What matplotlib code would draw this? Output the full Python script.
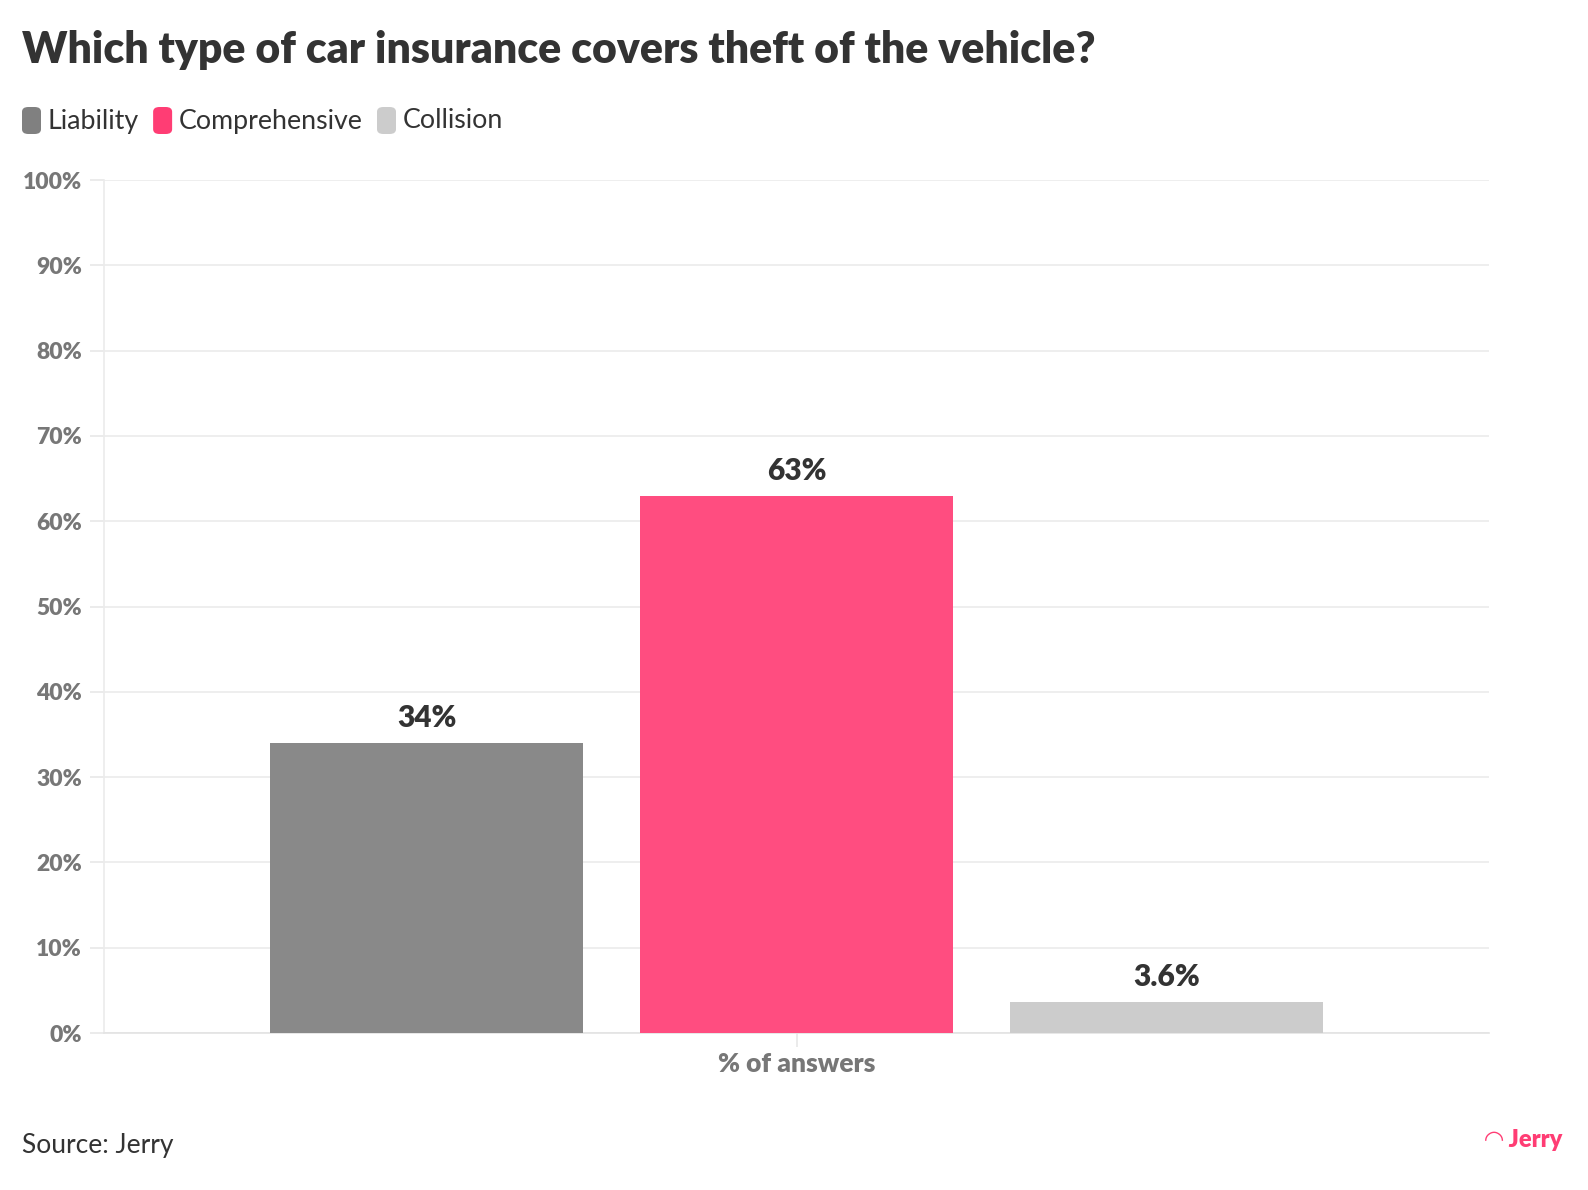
import matplotlib.pyplot as plt
from matplotlib.patches import FancyBboxPatch

plt.rcParams['font.family'] = ['Lato', 'DejaVu Sans']

# data
categories = ["Liability", "Comprehensive", "Collision"]
values = [34, 63, 3.6]
value_labels = ["34%", "63%", "3.6%"]
colors = ["#898989", "#ff4d80", "#cccccc"]
legend_colors = ["#808080", "#ff3d74", "#cccccc"]
group_label = "% of answers"
yticks = list(range(0, 101, 10))

fig = plt.figure(figsize=(15.88, 11.9), dpi=100)
ax = fig.add_axes([104 / 1588, 1 - 1033 / 1190, 1385 / 1588, 853 / 1190])

width = 0.226
step = 0.267
offsets = [(i - 1) * step for i in range(len(categories))]
ax.bar(offsets, values, width=width, color=colors, zorder=3)
for x, v, lab in zip(offsets, values, value_labels):
    ax.text(x, v + 1.3, lab, ha='center', va='bottom', fontsize=21.5,
            fontweight='heavy', color='#333333')

ax.set_xlim(-0.5, 0.5)
ax.set_ylim(0, 100)
ax.set_yticks(yticks)
ax.set_yticklabels([f"{t}%" for t in yticks], fontsize=16.5, fontweight='heavy', color='#777777')
ax.set_xticks([0])
ax.set_xticklabels([group_label], fontsize=19, fontweight='heavy', color='#777777')
ax.tick_params(axis='y', length=10, color='#e8e8e8', width=1.2, pad=6)
ax.tick_params(axis='x', length=10, color='#e8e8e8', width=1.2, pad=4)
ax.grid(axis='y', color='#ebebeb', linewidth=1.2, zorder=0)
for s in ['top', 'right']:
    ax.spines[s].set_visible(False)
ax.spines['left'].set_color('#ebebeb')
ax.spines['left'].set_linewidth(1.2)
ax.spines['bottom'].set_color('#e3e3e3')
ax.spines['bottom'].set_linewidth(1.2)

fig.text(22 / 1588, 1 - 50 / 1190, "Which type of car insurance covers theft of the vehicle?",
         fontsize=30.8, fontweight='heavy', color='#333333', va='center')

# legend
lx = 22
for name, c in zip(categories, legend_colors):
    box = FancyBboxPatch((lx / 1588, 1 - 134 / 1190), 19 / 1588, 27 / 1190,
                         boxstyle="round,pad=0,rounding_size=0.004",
                         transform=fig.transFigure, color=c, ec='none')
    fig.patches.append(box)
    t = fig.text((lx + 26) / 1588, 1 - 121 / 1190, name, fontsize=19.3, color='#333333', va='center')
    fig.canvas.draw()
    bb = t.get_window_extent()
    lx = bb.x1 + 14

fig.text(22 / 1588, 1 - 1145 / 1190, "Source: Jerry", fontsize=19, color='#333333', va='center')
fig.text(1562 / 1588, 1 - 1140 / 1190, "\u25e0 Jerry", fontsize=17, fontweight='heavy',
         color='#ff3d74', ha='right', va='center')

fig.savefig("out.png", dpi=100)
